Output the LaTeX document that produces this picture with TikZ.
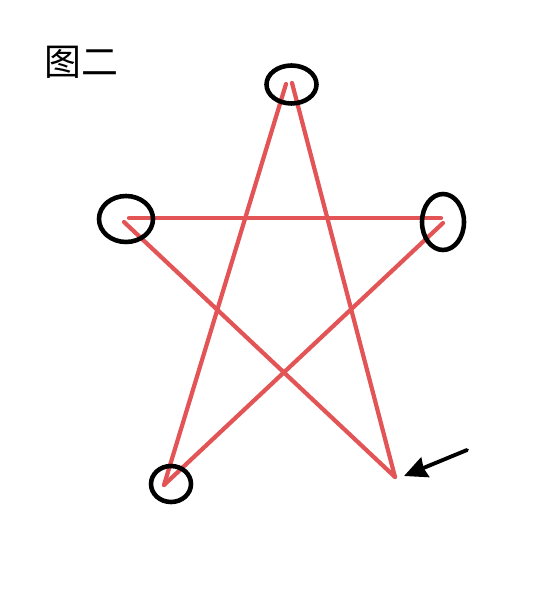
\documentclass[tikz,border=0pt]{standalone}
\usepackage{fontspec}
\newfontfamily\cjk{Noto Sans CJK SC}
\usepackage{tikz}
\usetikzlibrary{arrows.meta}
\definecolor{starred}{RGB}{226,84,86}

\begin{document}
\begin{tikzpicture}[x=0.02cm,y=-0.02cm]
\useasboundingbox (0,0) rectangle (550,597);
\node (Title) at (81,62) {\cjk\fontsize{21}{25}\selectfont 图二};
\coordinate (TopL) at (286,84);  \coordinate (TopR) at (292,83);
\coordinate (LeftA) at (129,218); \coordinate (LeftB) at (124,222);
\coordinate (RightA) at (441,218); \coordinate (RightB) at (443,223);
\coordinate (BotL) at (164,485); \coordinate (BotR) at (395,477);
\draw[starred, line width=2.4pt, line cap=round](TopL) -- (BotL);
\draw[starred, line width=2.4pt, line cap=round](TopR) -- (BotR);
\draw[starred, line width=2.4pt, line cap=round](LeftA) -- (RightA);
\draw[starred, line width=2.4pt, line cap=round](LeftB) -- (BotR);
\draw[starred, line width=2.4pt, line cap=round](RightB) -- (BotL);
\draw[line width=2.6pt] (291.5,84.5) ellipse (25 and 19);
\draw[line width=2.6pt] (126,219) ellipse (27 and 23);
\draw[line width=2.6pt] (443,222) ellipse (21 and 28);
\draw[line width=2.6pt] (171,484) ellipse (20 and 18);
\coordinate (Tail) at (467,450); \coordinate (Tip) at (404,476);
\draw[line width=2.2pt, line cap=round, -{Stealth[length=13pt,width=12pt,inset=1pt]}](Tail) -- (Tip);
\end{tikzpicture}
\end{document}
